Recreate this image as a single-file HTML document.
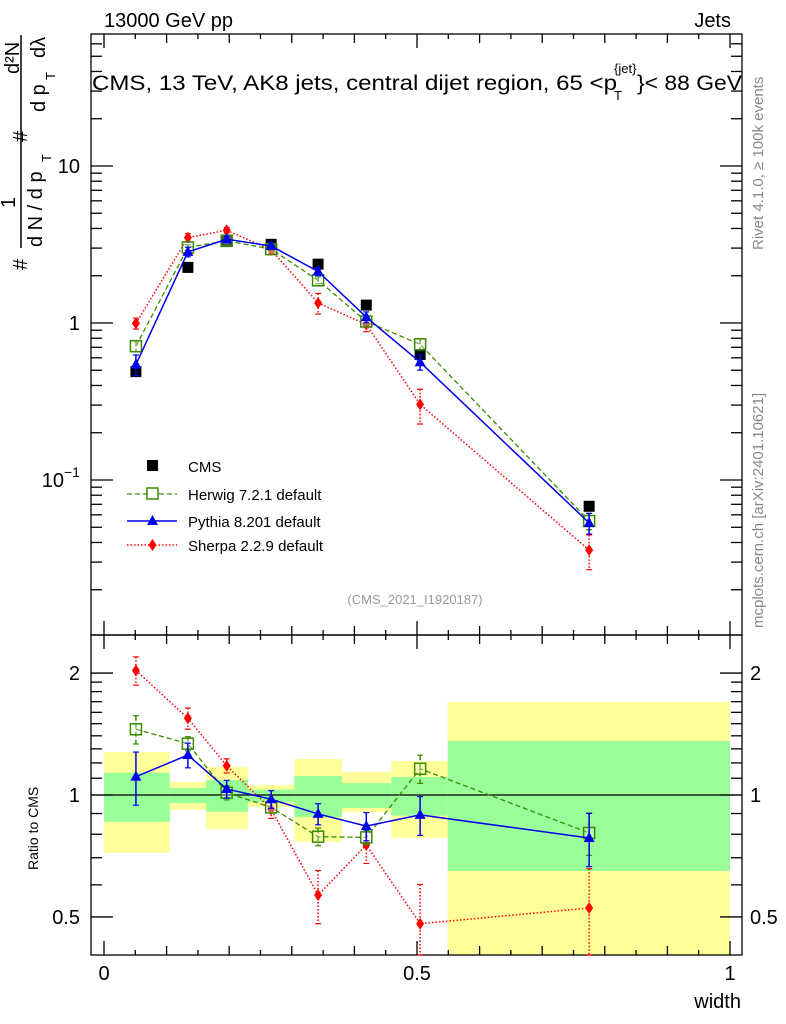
<!DOCTYPE html>
<html><head><meta charset="utf-8"><style>
body{margin:0;background:#fff;}
svg{display:block;font-family:"Liberation Sans",sans-serif;}
</style></head><body>
<svg id="c" width="786" height="1024" viewBox="0 0 786 1024" xmlns="http://www.w3.org/2000/svg">
<g id="bands"></g>
<g id="grid"></g>
<g id="marks"></g>
<text x="104" y="27" font-size="20">13000 GeV pp</text>
<text x="731" y="27" font-size="20" text-anchor="end">Jets</text>
<text x="92" y="90" font-size="21" textLength="525" lengthAdjust="spacingAndGlyphs">CMS, 13 TeV, AK8 jets, central dijet region, 65 &lt;p</text>
<text x="614" y="73" font-size="13">{jet}</text>
<text x="614" y="100" font-size="13">T</text>
<text x="637" y="90" font-size="21" textLength="105" lengthAdjust="spacingAndGlyphs">}&lt; 88 GeV</text>
<text x="415" y="604" font-size="13" fill="#999" text-anchor="middle">(CMS_2021_I1920187)</text>
<text transform="translate(763,250) rotate(-90)" font-size="15" fill="#888">Rivet 4.1.0, ≥ 100k events</text>
<text transform="translate(763,628) rotate(-90)" font-size="15" fill="#888">mcplots.cern.ch [arXiv:2401.10621]</text>
<g font-size="20">
<text transform="translate(27,270) rotate(-90)">#</text>
<line x1="21" y1="35" x2="21" y2="248" stroke="#000" stroke-width="1.5"/>
<text transform="translate(15,208) rotate(-90)">1</text>
<text transform="translate(42,247) rotate(-90)">d N / d p</text>
<text transform="translate(51,162) rotate(-90)" font-size="13">T</text>
<text transform="translate(27,142) rotate(-90)">#</text>
<text transform="translate(19,74) rotate(-90)">d²N</text>
<text transform="translate(45,112) rotate(-90)">d p</text>
<text transform="translate(55,80) rotate(-90)" font-size="13">T</text>
<text transform="translate(45,58) rotate(-90)">dλ</text>
</g>
<text transform="translate(38,870) rotate(-90)" font-size="14">Ratio to CMS</text>
<text x="741" y="1008" font-size="20" text-anchor="end">width</text>
<g font-size="15">
<g><rect x="147" y="460" width="11" height="11"/><text x="188" y="472">CMS</text></g>
<g><line x1="127" y1="494" x2="177" y2="494" stroke="#3a8a00" stroke-width="1.3" stroke-dasharray="5,3"/><rect x="147" y="488" width="11" height="11" fill="#fff" stroke="#3a8a00" stroke-width="1.5"/><text x="188" y="500">Herwig 7.2.1 default</text></g>
<g><line x1="127" y1="521" x2="177" y2="521" stroke="#0000ee" stroke-width="1.5"/><polygon points="152.5,515 158,525 147,525" fill="#0000ee"/><text x="188" y="527">Pythia 8.201 default</text></g>
<g><line x1="127" y1="545" x2="177" y2="545" stroke="#f00" stroke-width="1.5" stroke-dasharray="1.5,2"/><polygon points="152.5,539 156.5,545 152.5,551 148.5,545" fill="#f00"/><text x="188" y="551">Sherpa 2.2.9 default</text></g>
</g>
</svg>
<script>
const edges=[0,0.105,0.163,0.23,0.304,0.38,0.459,0.549,1.0];
const xs=[0.051,0.134,0.196,0.267,0.342,0.419,0.505,0.775];
const cms=[0.49,2.26,3.3,3.17,2.37,1.30,0.63,0.068];
const bandStatUp=[1.135,1.041,1.089,1.031,1.114,1.07,1.108,1.359];
const bandStatDn=[0.859,0.955,0.909,0.961,0.882,0.929,0.889,0.649];
const bandTotUp=[1.277,1.077,1.172,1.058,1.227,1.14,1.213,1.697];
const bandTotDn=[0.72,0.92,0.824,0.934,0.767,0.908,0.784,0.3];
const herwigR=[1.453,1.339,1.013,0.932,0.789,0.786,1.161,0.806];
const pythiaR=[1.11,1.255,1.035,0.976,0.898,0.838,0.893,0.783];
const sherpaR=[2.03,1.547,1.181,0.922,0.566,0.753,0.481,0.526];
const herwigE=[0.08,0.04,0.04,0.03,0.05,0.04,0.08,0.12];
const pythiaE=[0.15,0.07,0.05,0.05,0.06,0.08,0.11,0.15];
const sherpaE=[0.08,0.06,0.04,0.05,0.15,0.1,0.25,0.25];
const L=91,R=742,T=34,M=635,B=955;
const X=v=>104+626*v;
const Y=v=>323-157*Math.log10(v);
const YR=v=>795-405*Math.log10(v);
const NS="http://www.w3.org/2000/svg";
function mk(p,t,a){const e=document.createElementNS(NS,t);for(const k in a)e.setAttribute(k,a[k]);p.appendChild(e);return e;}
const svg=document.getElementById('c'),bands=document.getElementById('bands'),grid=document.getElementById('grid'),marks=document.getElementById('marks');
const clipR=v=>Math.max(M,Math.min(B,v));
for(let i=0;i<8;i++){
 const x1=X(edges[i]),x2=X(edges[i+1]);
 let y1=clipR(YR(bandTotUp[i])),y2=clipR(YR(bandTotDn[i]));
 const r=mk(bands,'rect',{x:x1,y:y1,width:x2-x1,height:y2-y1,fill:'#ffff99'});
 
 
 y1=clipR(YR(bandStatUp[i]));y2=clipR(YR(bandStatDn[i]));
 const g=mk(bands,'rect',{x:x1,y:y1,width:x2-x1,height:y2-y1,fill:'#99ff99'});
 
 
}
const ax=mk(grid,'g',{stroke:'#000','stroke-width':1.3,fill:'none'});


mk(ax,'rect',{x:L,y:T,width:R-L,height:M-T});
mk(ax,'rect',{x:L,y:M,width:R-L,height:B-M});
mk(ax,'line',{x1:L,y1:YR(1),x2:R,y2:YR(1)});
for(let k=0;k<=20;k++){const v=k*0.05,x=X(v);const len=(k%10==0)?14:(k%2==0?9:5);
 [[B,-1],[M,-1],[M,1],[T,1]].forEach(([y,d])=>{mk(ax,'line',{x1:x,y1:y,x2:x,y2:y+(d<0?-len:len)});});}
for(let e=-2;e<=1;e++)for(let m=1;m<=9;m++){const v=m*Math.pow(10,e),y=Y(v);if(y<T||y>M)continue;const len=m==1?22:11;
 mk(ax,'line',{x1:L,y1:y,x2:L+len,y2:y});mk(ax,'line',{x1:R,y1:y,x2:R-len,y2:y});}
[0.5,0.6,0.7,0.8,0.9,1,1.1,1.2,1.3,1.4,1.5,1.6,1.7,1.8,1.9,2].forEach(v=>{const y=YR(v);const big=(v==0.5||v==1||v==2);const len=big?22:11;
 mk(ax,'line',{x1:L,y1:y,x2:L+len,y2:y});mk(ax,'line',{x1:R,y1:y,x2:R-len,y2:y});});
const ticksMain=[[10,'10'],[1,'1']];
ticksMain.forEach(([v,t])=>{const e=mk(grid,'text',{x:80,y:Y(v)+7,'font-size':20,'text-anchor':'end'});e.textContent=t;
 
 });
{const e=mk(grid,'text',{x:64,y:Y(0.1)+7,'font-size':20,'text-anchor':'end'});e.textContent='10';
 
 
 const s=mk(grid,'text',{x:64,y:Y(0.1)-3,'font-size':14});s.textContent='−1';}
const ratioTicks=[[2,'2'],[1,'1'],[0.5,'0.5']];
ratioTicks.forEach(([v,t])=>{[[80,'end'],[750,'start']].forEach(([x,a])=>{const e=mk(grid,'text',{x:x,y:YR(v)+7,'font-size':20,'text-anchor':a});e.textContent=t;
 
 });});
const xTicks=[[0,'0'],[0.5,'0.5'],[1,'1']];
xTicks.forEach(([v,t])=>{const e=mk(grid,'text',{x:X(v),y:980,'font-size':20,'text-anchor':'middle'});e.textContent=t;
 
 });
function series(name,rat,err,col,dash,shape,w){
 const g=mk(marks,'g',{});
 
 
 for(const ratio of [false,true]){
  const yf=i=>ratio?YR(rat[i]):Y(rat[i]*cms[i]);
  const ye=(i,s)=>ratio?YR(rat[i]*(1+s*err[i])):Y(rat[i]*cms[i]*(1+s*err[i]));
  let d='';for(let i=0;i<8;i++)d+=(i?'L':'M')+X(xs[i])+' '+yf(i);
  mk(g,'path',{d:d,fill:'none',stroke:col,'stroke-width':w,'stroke-dasharray':dash});
  for(let i=0;i<8;i++){const x=X(xs[i]);const y1=Math.max(ratio?M:T,ye(i,1)),y2=Math.min(ratio?B:M,ye(i,-1));
   mk(g,'line',{x1:x,y1:y1,x2:x,y2:y2,stroke:col,'stroke-width':1.5,'stroke-dasharray':dash});
   mk(g,'line',{x1:x-3,y1:y1,x2:x+3,y2:y1,stroke:col,'stroke-width':1.2});
   mk(g,'line',{x1:x-3,y1:y2,x2:x+3,y2:y2,stroke:col,'stroke-width':1.2});
   const y=yf(i);let m;
   if(shape=='sq')m=mk(g,'rect',{x:x-5.5,y:y-5.5,width:11,height:11,fill:'#fff','fill-opacity':0.3,stroke:col,'stroke-width':1.5});
   else if(shape=='tri')m=mk(g,'polygon',{points:`${x},${y-6} ${x+5.5},${y+4} ${x-5.5},${y+4}`,fill:col});
   else m=mk(g,'polygon',{points:`${x},${y-6} ${x+4},${y} ${x},${y+6} ${x-4},${y}`,fill:col});
   
   
  }
 }
}
for(let i=0;i<8;i++){const r=mk(marks,'rect',{x:X(xs[i])-5.5,y:Y(cms[i])-5.5,width:11,height:11,fill:'#000'});
 
 }
series('sherpa',sherpaR,sherpaE,'#ff0000','1.5,2','dia',1.5);
series('herwig',herwigR,herwigE,'#3a8a00','5,3','sq',1.3);
series('pythia',pythiaR,pythiaE,'#0000ee','none','tri',1.5);
</script>
</body></html>
